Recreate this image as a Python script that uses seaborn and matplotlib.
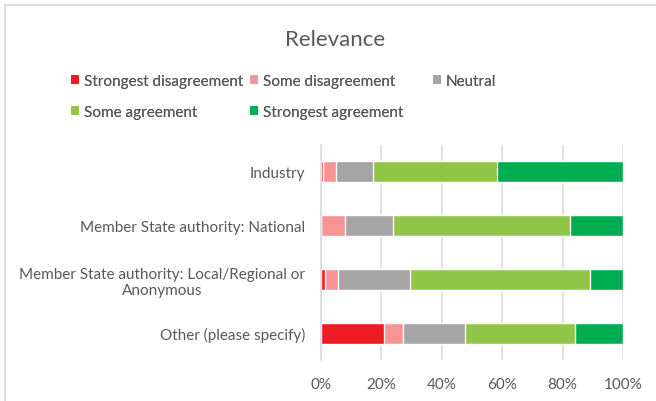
import matplotlib
matplotlib.use("Agg")
import matplotlib.pyplot as plt
from matplotlib.lines import Line2D
import numpy as np
import pandas as pd
import seaborn as sns

# Response categories (rows of the chart)
categories = [
    "Industry",
    "Member State authority: National",
    "Member State authority: Local/Regional or\nAnonymous",
    "Other (please specify)",
]

# Share of answers per response level, in percent
strongest_disagreement = [0.7, 0.0, 1.2, 20.9]
some_disagreement = [4.3, 8.0, 4.4, 6.4]
neutral = [12.3, 15.8, 23.9, 20.3]
some_agreement = [41.0, 58.6, 59.6, 36.5]
strongest_agreement = [41.7, 17.6, 10.9, 15.9]

levels = ["Strongest disagreement", "Some disagreement", "Neutral",
          "Some agreement", "Strongest agreement"]
colors = ["#ED1C24", "#F79494", "#A5A5A5", "#92C648", "#00AD50"]
x_ticks = [0, 20, 40, 60, 80, 100]
x_tick_labels = ["0%", "20%", "40%", "60%", "80%", "100%"]

series = [strongest_disagreement, some_disagreement, neutral,
          some_agreement, strongest_agreement]
df = pd.DataFrame({lvl: vals for lvl, vals in zip(levels, series)})
df["category"] = categories
cum = df[levels].cumsum(axis=1)

sns.set_theme(style="white")
plt.rcParams["font.family"] = ["Lato", "DejaVu Sans"]
text_color = "#595959"
grid_color = "#D9D9D9"
W, H = 656, 402

fig = plt.figure(figsize=(W / 100, H / 100), dpi=100)
ax = fig.add_axes([321 / W, 41 / H, 302 / W, 215 / H])

# Stacked bars: draw cumulative totals from the last level back to the first
for lvl, col in reversed(list(zip(levels, colors))):
    sns.barplot(x=cum[lvl], y=df["category"], orient="h", color=col,
                width=0.39, saturation=1, ax=ax, zorder=3)
handles = {lvl: plt.Rectangle((0, 0), 1, 1, facecolor=col, edgecolor="none")
           for lvl, col in zip(levels, colors)}

ax.set_xlim(0, 100)
ax.set_ylim(3.5, -0.5)
ax.set_xticks(x_ticks)
ax.set_xticklabels(x_tick_labels)
ax.set_xlabel("")
ax.set_ylabel("")
ax.tick_params(axis="both", length=0, colors=text_color, labelsize=11)
ax.tick_params(axis="x", pad=12)
ax.tick_params(axis="y", pad=11.5)
for lab in ax.get_yticklabels():
    lab.set_multialignment("center")
ax.xaxis.grid(True, color=grid_color, linewidth=1.1, zorder=0)
ax.set_axisbelow(True)
for side in ["top", "right", "bottom"]:
    ax.spines[side].set_visible(False)
ax.spines["left"].set_color(grid_color)
ax.spines["left"].set_linewidth(1.1)
ax.spines["left"].set_zorder(4)

# Title
fig.text(335 / W, 1 - 40 / H, "Relevance", ha="center", va="center",
         fontsize=16, color=text_color)

# Legend: entries arranged in a grid of equal-width slots
slots = {
    "Strongest disagreement": (71, 82),
    "Some disagreement": (250, 82),
    "Neutral": (433, 82),
    "Some agreement": (71, 113),
    "Strongest agreement": (250, 113),
}
leg_kw = dict(frameon=False, fontsize=11, labelcolor=text_color,
              handlelength=0.5, handleheight=0.5, handletextpad=0.33,
              borderaxespad=0, borderpad=0, loc="center left")
for lvl in levels:
    px, py = slots[lvl]
    leg = fig.legend([handles[lvl]], [lvl],
                     bbox_to_anchor=(px / W, 1 - py / H), **leg_kw)
    fig.add_artist(leg)

# Chart area frame (left and top edges)
fig.add_artist(Line2D([4.5 / W, 4.5 / W], [0, 1 - 5.5 / H],
                      transform=fig.transFigure, color=grid_color, linewidth=1.2))
fig.add_artist(Line2D([4.5 / W, 1], [1 - 5.5 / H, 1 - 5.5 / H],
                      transform=fig.transFigure, color=grid_color, linewidth=1.2))

fig.savefig("out.png", dpi=100, facecolor="white")
